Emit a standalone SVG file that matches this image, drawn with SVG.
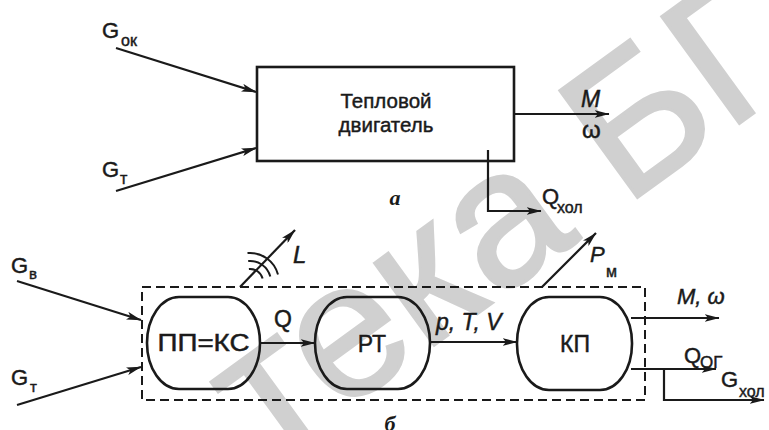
<svg xmlns="http://www.w3.org/2000/svg" width="769" height="430" viewBox="0 0 769 430">
<defs>
<marker id="ah" markerUnits="userSpaceOnUse" viewBox="0 0 15 8" refX="14.5" refY="4" markerWidth="15" markerHeight="8" orient="auto">
<path d="M0,0 L15,4 L0,8 L3.5,4 Z" fill="#1a1a1a"/>
</marker>
<style>
.ln{stroke:#1a1a1a;stroke-width:2;fill:none}
.arr{stroke:#1a1a1a;stroke-width:2.2;fill:none;marker-end:url(#ah)}
.box{stroke:#1a1a1a;stroke-width:2.6;fill:none}
.node{stroke:#1a1a1a;stroke-width:2.6;fill:none}
.t{font-family:"Liberation Sans",Arial,sans-serif;fill:#1a1a1a;stroke:#1a1a1a;stroke-width:0.45}
.i{font-style:italic}
.cap{font-family:"Liberation Serif","Times New Roman",serif;font-style:italic;font-weight:bold;fill:#1a1a1a}
.wm{font-family:"Liberation Sans",Arial,sans-serif;fill:#d0d0d0;stroke:#d0d0d0;stroke-width:3}
</style>
</defs>
<rect width="769" height="430" fill="#ffffff"/>
<text class="wm" font-size="192" transform="translate(268,466) rotate(-36)">тека БГУ</text>

<g id="connectors">
<line class="arr" x1="116" y1="48" x2="256" y2="92"/>
<line class="arr" x1="116" y1="191" x2="256" y2="148"/>
<line class="arr" x1="514" y1="114" x2="609" y2="114"/>
<path class="arr" d="M488,150 V211 H541"/>
<line class="arr" x1="17" y1="281" x2="141" y2="320"/>
<line class="arr" x1="17" y1="405" x2="141" y2="367"/>
<line class="arr" x1="260" y1="343" x2="315" y2="343"/>
<line class="arr" x1="430" y1="342" x2="517" y2="342"/>
<line class="arr" x1="631" y1="318" x2="719" y2="318"/>
<line class="arr" x1="631" y1="369" x2="716" y2="369"/>
<path class="arr" d="M664,369 V400 H764"/>
<line class="arr" x1="542" y1="287" x2="596" y2="233"/>
<line class="arr" x1="240" y1="287" x2="295" y2="230"/>
<path class="ln" d="M247.5,253 A29,29 0 0 1 278,274.5"/>
<path class="ln" d="M248.2,261 A21,21 0 0 1 270.3,276.6"/>
<path class="ln" d="M248.9,269 A13,13 0 0 1 262.6,278.6"/>
</g>

<g id="labels">
<text class="t" x="102" y="38" font-size="22">G</text>
<text class="t" x="121" y="46" font-size="16">ок</text>
<text class="t" x="102" y="177" font-size="22">G</text>
<text class="t" x="120" y="184" font-size="16">т</text>
<text class="t i" x="581" y="107" font-size="23">M</text>
<text class="t" x="582" y="138" font-size="24">ω</text>
<text class="t" x="542" y="204" font-size="22">Q</text>
<text class="t" x="557" y="213" font-size="16">хол</text>
<text class="cap" x="395" y="205" font-size="22" text-anchor="middle">a</text>

<text class="t" x="11" y="273" font-size="22">G</text>
<text class="t" x="29" y="279" font-size="15">в</text>
<text class="t" x="11" y="385" font-size="22">G</text>
<text class="t" x="30" y="392" font-size="15">т</text>
<text class="t i" x="293" y="263" font-size="24">L</text>
<text class="t i" x="590" y="262" font-size="22">P</text>
<text class="t" x="606" y="277" font-size="16">м</text>
<text class="t" x="283" y="327" font-size="23" text-anchor="middle">Q</text>
<text class="t i" x="436" y="330" font-size="23">p, T, V</text>
<text class="t i" x="677" y="304" font-size="22">M, ω</text>
<text class="t" x="684" y="363" font-size="22">Q</text>
<text class="t" x="700" y="368" font-size="17">ОГ</text>
<text class="t" x="721" y="387" font-size="22">G</text>
<text class="t" x="739" y="397" font-size="16">хол</text>
<text class="cap" x="390" y="431" font-size="22" text-anchor="middle">б</text>
</g>

<g id="engine">
<rect class="box" x="257" y="67" width="257" height="94"/>
<text class="t" x="386" y="108" font-size="20.5" text-anchor="middle">Тепловой</text>
<text class="t" x="386" y="132" font-size="20.5" text-anchor="middle">двигатель</text>
</g>

<g id="system">
<rect class="ln" x="142" y="287" width="503" height="113" stroke-dasharray="9 5"/>
</g>

<g id="pp-ks">
<rect class="node" x="147" y="297" width="113" height="92" rx="32" ry="46"/>
<text class="t" x="203.5" y="351" font-size="23" text-anchor="middle" textLength="92" lengthAdjust="spacingAndGlyphs">ПП=КС</text>
</g>
<g id="rt">
<rect class="node" x="315" y="297" width="115" height="92" rx="32" ry="46"/>
<text class="t" x="372" y="352" font-size="23" text-anchor="middle">РТ</text>
</g>
<g id="kp">
<rect class="node" x="517" y="297" width="115" height="93" rx="32" ry="46"/>
<text class="t" x="575" y="352" font-size="23" text-anchor="middle">КП</text>
</g>
</svg>
